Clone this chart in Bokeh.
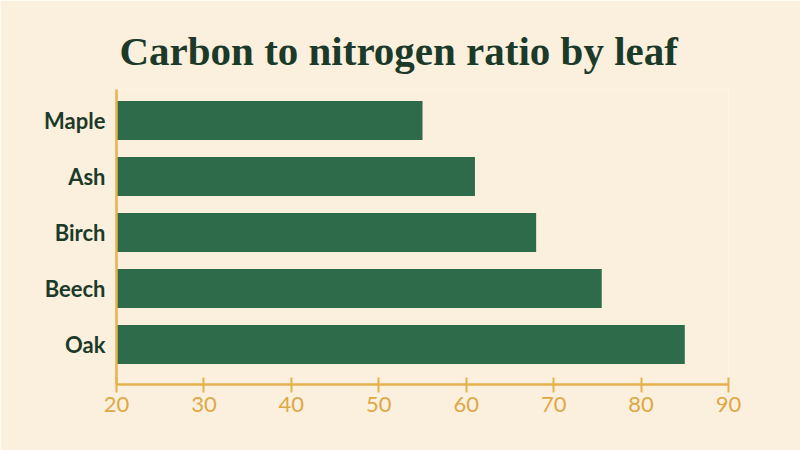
from bokeh.plotting import figure
from bokeh.models import Range1d, FixedTicker
from bokeh.embed import file_html
from bokeh.resources import INLINE

# data
leaves = ["Maple", "Ash", "Birch", "Beech", "Oak"]
cn_ratio = [55, 61, 68, 75.5, 85]
x_ticks = [20, 30, 40, 50, 60, 70, 80, 90]

# rows from the top: Maple highest, Oak at the bottom
rows = list(range(len(leaves) - 1, -1, -1))

BG = "#FBF0DD"
GREEN = "#2E6B4A"
DARK = "#1C3A29"
GOLD = "#E6B24F"
GOLD_TXT = "#DFA745"

p = figure(
    width=800,
    height=450,
    y_range=Range1d(-0.714, len(leaves) - 1 + 0.554),
    x_range=Range1d(20, 90),
    title="Carbon to nitrogen ratio by leaf",
    toolbar_location=None,
    output_backend="svg",
    background_fill_color=BG,
    border_fill_color=BG,
    min_border_left=116,
    min_border_right=72,
    min_border_top=89,
    min_border_bottom=66,
)

p.hbar(y=rows, left=x_ticks[0], right=cn_ratio, height=0.7,
       fill_color=GREEN, line_color=None)

# title
p.title.text_font = "Liberation Serif"
p.title.text_font_style = "bold"
p.title.text_font_size = "41px"
p.title.text_color = DARK
p.title.align = "left"
p.title.offset = 3
p.title.standoff = 32

p.outline_line_color = None
p.xgrid.grid_line_color = None
p.ygrid.grid_line_color = None

# x axis
p.xaxis.ticker = FixedTicker(ticks=x_ticks)
p.xaxis.axis_line_color = GOLD
p.xaxis.axis_line_width = 2.5
p.xaxis.major_tick_line_color = GOLD
p.xaxis.major_tick_line_width = 2
p.xaxis.major_tick_in = 7
p.xaxis.major_tick_out = 8
p.xaxis.minor_tick_line_color = None
p.xaxis.major_label_text_font = "Lato"
p.xaxis.major_label_text_font_size = "22px"
p.xaxis.major_label_text_color = GOLD_TXT
p.xaxis.major_label_standoff = 4

# y axis: category names on the row positions
p.yaxis.ticker = FixedTicker(ticks=rows)
p.yaxis.major_label_overrides = {r: name for r, name in zip(rows, leaves)}
p.yaxis.axis_line_color = GOLD
p.yaxis.axis_line_width = 2.5
p.yaxis.major_tick_line_color = None
p.yaxis.minor_tick_line_color = None
p.yaxis.major_label_text_font = "Lato"
p.yaxis.major_label_text_font_style = "bold"
p.yaxis.major_label_text_font_size = "22px"
p.yaxis.major_label_text_color = DARK
p.yaxis.major_label_standoff = 5

open("out.html", "w").write(file_html(p, INLINE))
